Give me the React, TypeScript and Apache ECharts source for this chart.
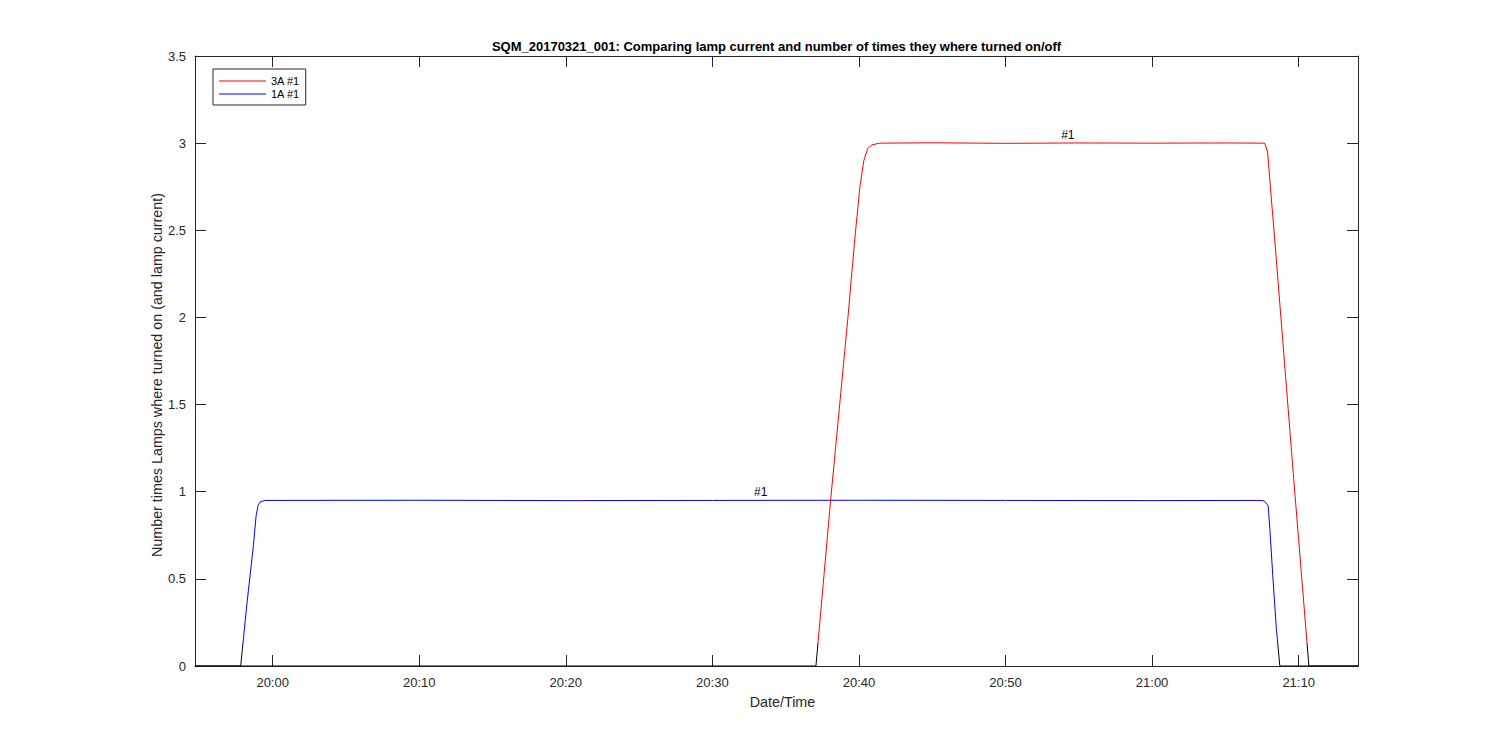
import React, { useEffect, useRef } from "react";
import * as echarts from "echarts";

const TITLE =
  "SQM_20170321_001: Comparing lamp current and number of times they where turned on/off";
const X_NAME = "Date/Time";
const Y_NAME = "Number times Lamps where turned on (and lamp current)";

const X_MIN = "19:54:42";
const X_MAX = "21:14:03";
const X_TICKS = ["20:00", "20:10", "20:20", "20:30", "20:40", "20:50", "21:00", "21:10"];
const Y_MIN = 0;
const Y_MAX = 3.5;
const Y_STEP = 0.5;

const SERIES_3A_NAME = "3A #1";
const SERIES_1A_NAME = "1A #1";

const lamp3ATimes = [
  "19:54:42", "20:37:04", "20:38:04", "20:39:15", "20:39:43", "20:40:04", "20:40:20",
  "20:40:36", "20:40:53", "20:41:25", "20:45:00", "20:50:00", "20:55:00", "21:00:00",
  "21:05:00", "21:07:41", "21:07:53", "21:08:06", "21:08:22", "21:09:40", "21:10:42",
  "21:14:03",
];
const lamp3AValues = [
  0, 0, 0.95, 2.0, 2.45, 2.75, 2.9,
  2.97, 2.99, 3.0, 3.002, 2.999, 3.001, 3.0,
  3.001, 3.0, 2.95, 2.72, 2.45, 1.07, 0,
  0,
];

const lamp1ATimes = [
  "19:54:42", "19:57:49", "19:58:14", "19:58:41", "19:58:52", "19:59:00", "19:59:08",
  "19:59:28", "20:10:00", "20:20:00", "20:30:00", "20:40:00", "20:50:00", "21:00:00",
  "21:07:30", "21:07:41", "21:07:55", "21:08:02", "21:08:15", "21:08:29", "21:08:43",
  "21:14:03",
];
const lamp1AValues = [
  0, 0, 0.35, 0.69, 0.86, 0.92, 0.94,
  0.95, 0.951, 0.949, 0.95, 0.951, 0.95, 0.949,
  0.95, 0.945, 0.92, 0.79, 0.5, 0.21, 0,
  0,
];

const label3ATime = "20:54:15";
const label3AValue = 3.0;
const label1ATime = "20:33:18";
const label1AValue = 0.95;
const ANNOTATION_TEXT = "#1";

const OFF_THRESHOLD = 0.13;

const FONT = "'Liberation Sans', Arial, Helvetica, sans-serif";
const AXIS_COLOR = "#262626";

function toSec(t: string): number {
  const [h, m, s] = t.split(":").map(Number);
  return h * 3600 + m * 60 + (s || 0);
}
function fmt(v: number): string {
  const h = Math.floor(v / 3600);
  const m = Math.floor((v % 3600) / 60);
  return `${String(h).padStart(2, "0")}:${String(m).padStart(2, "0")}`;
}

export default function App() {
  const ref = useRef<HTMLDivElement>(null);

  useEffect(() => {
    if (!ref.current) return;
    const chart = echarts.init(ref.current, undefined, { renderer: "svg" });
    const xTickVals = X_TICKS.map(toSec);
    const data3A = lamp3ATimes.map((t, i) => [toSec(t), lamp3AValues[i]]);
    const data1A = lamp1ATimes.map((t, i) => [toSec(t), lamp1AValues[i]]);

    const baseX = {
      type: "value" as const,
      min: toSec(X_MIN),
      max: toSec(X_MAX),
      splitLine: { show: false },
      axisLine: { show: true, onZero: false, lineStyle: { color: AXIS_COLOR, width: 1 } },
      axisTick: {
        show: true,
        inside: true,
        length: 11,
        customValues: xTickVals,
        lineStyle: { color: AXIS_COLOR, width: 1 },
      },
    };
    const baseY = {
      type: "value" as const,
      min: Y_MIN,
      max: Y_MAX,
      interval: Y_STEP,
      splitLine: { show: false },
      axisLine: { show: true, onZero: false, lineStyle: { color: AXIS_COLOR, width: 1 } },
      axisTick: { show: true, inside: true, length: 11, lineStyle: { color: AXIS_COLOR, width: 1 } },
    };

    const markLabel = (time: string, value: number) => ({
      silent: true,
      symbol: "circle",
      symbolSize: 0,
      itemStyle: { color: "transparent" },
      label: {
        show: true,
        position: "top",
        distance: 2,
        formatter: ANNOTATION_TEXT,
        color: "#000",
        fontSize: 12,
        fontFamily: FONT,
      },
      data: [{ coord: [toSec(time), value] }],
    });

    chart.setOption({
      animation: false,
      backgroundColor: "#fff",
      title: {
        text: TITLE,
        left: 776.5,
        top: 40,
        textAlign: "center",
        padding: 0,
        textStyle: { fontSize: 13, fontWeight: "bold", color: "#000", fontFamily: FONT },
      },
      grid: { left: 195, right: 142, top: 56, bottom: 84, containLabel: false },
      legend: {
        orient: "vertical",
        left: 213,
        top: 69,
        padding: [6, 6, 5, 6],
        itemGap: 1,
        itemWidth: 47,
        itemHeight: 1,
        icon: "rect",
        borderColor: AXIS_COLOR,
        borderWidth: 1,
        backgroundColor: "#fff",
        textStyle: { fontSize: 11, color: "#000", fontFamily: FONT, lineHeight: 12 },
        data: [
          { name: SERIES_3A_NAME, itemStyle: { color: "#ff0000" } },
          { name: SERIES_1A_NAME, itemStyle: { color: "#0000ff" } },
        ],
      },
      visualMap: [
        {
          type: "piecewise",
          show: false,
          seriesIndex: 0,
          dimension: 1,
          pieces: [
            { gte: -1, lt: OFF_THRESHOLD, color: "#000000" },
            { gte: OFF_THRESHOLD, lte: 5, color: "#0000ff" },
          ],
        },
        {
          type: "piecewise",
          show: false,
          seriesIndex: 1,
          dimension: 1,
          pieces: [
            { gte: -1, lt: OFF_THRESHOLD, color: "#000000" },
            { gte: OFF_THRESHOLD, lte: 5, color: "#ff0000" },
          ],
        },
      ],
      xAxis: [
        {
          ...baseX,
          position: "bottom",
          name: X_NAME,
          nameLocation: "middle",
          nameGap: 29,
          nameMoveOverlap: false,
          nameTextStyle: { fontSize: 14.3, color: AXIS_COLOR, fontFamily: FONT, padding: [0, 0, 0, 12] },
          axisLabel: {
            show: true,
            customValues: xTickVals,
            formatter: (v: number) => fmt(v),
            margin: 10,
            fontSize: 13,
            color: AXIS_COLOR,
            fontFamily: FONT,
          },
        },
        {
          ...baseX,
          position: "top",
          axisLabel: { show: false },
        },
      ],
      yAxis: [
        {
          ...baseY,
          position: "left",
          name: Y_NAME,
          nameLocation: "middle",
          nameGap: 31,
          nameMoveOverlap: false,
          nameTextStyle: { fontSize: 14.3, color: AXIS_COLOR, fontFamily: FONT, padding: [0, 28, 0, 0] },
          axisLabel: { show: true, margin: 9, fontSize: 13, color: AXIS_COLOR, fontFamily: FONT },
        },
        {
          ...baseY,
          position: "right",
          axisLabel: { show: false },
        },
      ],
      series: [
        {
          name: SERIES_1A_NAME,
          type: "line",
          xAxisIndex: 0,
          yAxisIndex: 0,
          showSymbol: false,
          symbol: "none",
          lineStyle: { width: 1 },
          itemStyle: { color: "#0000ff" },
          data: data1A,
          markPoint: markLabel(label1ATime, label1AValue),
        },
        {
          name: SERIES_3A_NAME,
          type: "line",
          xAxisIndex: 0,
          yAxisIndex: 0,
          showSymbol: false,
          symbol: "none",
          lineStyle: { width: 1 },
          itemStyle: { color: "#ff0000" },
          data: data3A,
          markPoint: markLabel(label3ATime, label3AValue),
        },
      ],
    });
    return () => chart.dispose();
  }, []);

  return (
    <div
      ref={ref}
      style={{ position: "fixed", left: 0, top: 0, width: 1500, height: 750, background: "#fff" }}
    />
  );
}
